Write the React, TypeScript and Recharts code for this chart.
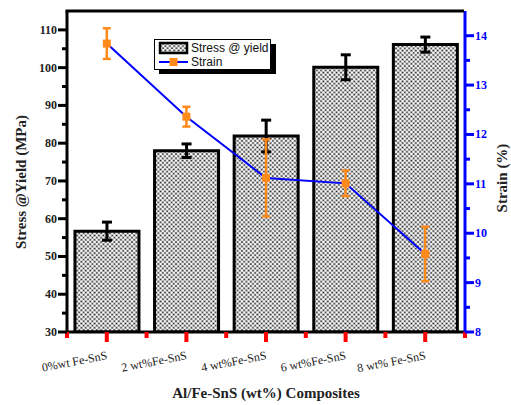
import React from 'react';
import { ComposedChart, Bar, Line, XAxis, YAxis, ErrorBar } from 'recharts';

const categories = ['0%wt Fe-SnS', '2 wt%Fe-SnS', '4 wt%Fe-SnS', '6 wt%Fe-SnS', '8 wt% Fe-SnS'];
const stress = [56.7, 78.0, 81.9, 100.1, 106.1];
const stressErr = [2.4, 1.8, 4.2, 3.3, 2.0];
const strain = [13.84, 12.36, 11.12, 11.01, 9.58];
const strainErr = [0.31, 0.2, 0.78, 0.26, 0.55];

const leftTicks = [30, 35, 40, 45, 50, 55, 60, 65, 70, 75, 80, 85, 90, 95, 100, 105, 110];
const rightTicks = [8, 8.5, 9, 9.5, 10, 10.5, 11, 11.5, 12, 12.5, 13, 13.5, 14];

const data = categories.map((c, i) => ({
  name: c,
  stress: stress[i],
  stressErr: stressErr[i],
  strain: strain[i],
  strainErr: strainErr[i],
}));

const SERIF = '"Liberation Serif", "Times New Roman", serif';
const SANS = '"Liberation Sans", Arial, sans-serif';
const ORANGE = '#FF8A1A';
const BLUE = '#0000FF';
const TICKCOLOR = 'red';

const XTick = (props: any) => {
  const { x, y, payload, index } = props;
  const count = props.visibleTicksCount || categories.length;
  const band = props.width && count ? props.width / count : 79.8;
  const tx = x + 1;
  const ty = y + 27;
  const last = index === count - 1;
  return (
    <g>
      <rect x={x - 2} y={y} width={4} height={10} fill={TICKCOLOR} />
      <rect x={x - band / 2 - 2} y={y} width={4} height={6} fill={TICKCOLOR} />
      {last && <rect x={x + band / 2 - 2} y={y} width={4} height={6} fill={TICKCOLOR} />}
      <text x={tx} y={ty} textAnchor="end" transform={`rotate(-11, ${tx}, ${ty})`} fontFamily={SERIF} fontSize={12} fill="#222">
        {payload.value}
      </text>
    </g>
  );
};

const LeftTick = (props: any) => {
  const { x, y, payload } = props;
  const major = payload.value % 10 === 0;
  const len = major ? 9 : 5;
  return (
    <g>
      <rect x={x - len} y={y - 1.5} width={len} height={3} fill="#000" />
      {major && (
        <text x={x - 10} y={y + 4} textAnchor="end" fontFamily={SERIF} fontWeight="bold" fontSize={12} fill="#222">
          {payload.value}
        </text>
      )}
    </g>
  );
};

const RightTick = (props: any) => {
  const { x, y, payload } = props;
  const major = Number.isInteger(payload.value);
  const len = major ? 9 : 5;
  return (
    <g>
      <rect x={x} y={y - 1.5} width={len} height={3} fill={BLUE} />
      {major && (
        <text x={x + 10} y={y + 4} textAnchor="start" fontFamily={SERIF} fontWeight="bold" fontSize={12} fill={BLUE}>
          {payload.value}
        </text>
      )}
    </g>
  );
};

const SquareDot = (props: any) => {
  const { cx, cy, index } = props;
  if (cx == null || cy == null) return <g key={index} />;
  return <rect key={index} x={cx - 4} y={cy - 4} width={8} height={8} fill={ORANGE} />;
};

const Hatch = ({ id }: { id: string }) => (
  <pattern id={id} patternUnits="userSpaceOnUse" width={4.4} height={4.4}>
    <rect width={4.4} height={4.4} fill="#fff" />
    <line x1={0} y1={0} x2={4.4} y2={4.4} stroke="#a8a8a8" strokeWidth={0.9} />
    <line x1={4.4} y1={0} x2={0} y2={4.4} stroke="#a8a8a8" strokeWidth={0.9} />
    <circle cx={2.2} cy={2.2} r={0.75} fill="#000" />
    <circle cx={0} cy={0} r={0.75} fill="#000" />
    <circle cx={4.4} cy={0} r={0.75} fill="#000" />
    <circle cx={0} cy={4.4} r={0.75} fill="#000" />
    <circle cx={4.4} cy={4.4} r={0.75} fill="#000" />
  </pattern>
);

export default function App() {
  return (
    <div style={{ position: 'absolute', left: 0, top: 0, width: 511, height: 405, background: '#fff' }}>
      <ComposedChart width={511} height={405} data={data} margin={{ top: 11, right: 0, bottom: 0, left: 0 }} barCategoryGap="10%">
        <defs>
          <Hatch id="hatch" />
        </defs>
        <XAxis
          xAxisId="cat"
          dataKey="name"
          height={73}
          interval={0}
          tickLine={false}
          tickSize={0}
          tickMargin={0}
          axisLine={{ stroke: '#000', strokeWidth: 3 }}
          tick={<XTick />}
        />
        <YAxis
          yAxisId="left"
          orientation="left"
          width={67}
          domain={[30, 115]}
          ticks={leftTicks}
          interval={0}
          tickLine={false}
          tickSize={0}
          tickMargin={0}
          axisLine={{ stroke: '#000', strokeWidth: 3 }}
          tick={<LeftTick />}
          allowDataOverflow
        />
        <YAxis
          yAxisId="right"
          orientation="right"
          width={46}
          domain={[8, 14.5]}
          ticks={rightTicks}
          interval={0}
          tickLine={false}
          tickSize={0}
          tickMargin={0}
          axisLine={{ stroke: BLUE, strokeWidth: 3 }}
          tick={<RightTick />}
          allowDataOverflow
        />
        <Bar
          dataKey="stress"
          xAxisId="cat"
          yAxisId="left"
          fill="url(#hatch)"
          stroke="#000"
          strokeWidth={3}
          isAnimationActive={false}
        >
          <ErrorBar dataKey="stressErr" width={5} stroke="#000" strokeWidth={3} direction="y" />
        </Bar>
        <Line
          dataKey="strain"
          xAxisId="cat"
          yAxisId="right"
          stroke={BLUE}
          strokeWidth={2}
          dot={<SquareDot />}
          activeDot={false}
          isAnimationActive={false}
        >
          <ErrorBar dataKey="strainErr" width={4} stroke={ORANGE} strokeWidth={2.5} direction="y" />
        </Line>
      </ComposedChart>
      <svg style={{ position: 'absolute', left: 0, top: 0, pointerEvents: 'none' }} width={511} height={405}>
        <line x1={65.5} y1={11} x2={464} y2={11} stroke="#000" strokeWidth={3} />
        <text x={266} y={398} textAnchor="middle" fontFamily={SERIF} fontWeight="bold" fontSize={15} fill="#222">
          Al/Fe-SnS (wt%) Composites
        </text>
        <text x={26} y={182} textAnchor="middle" transform="rotate(-90, 26, 182)" fontFamily={SERIF} fontWeight="bold" fontSize={15} fill="#222">
          Stress @Yield (MPa)
        </text>
        <text x={507} y={178} textAnchor="middle" transform="rotate(-90, 507, 178)" fontFamily={SERIF} fontWeight="bold" fontSize={15} fill="#222">
          Strain (%)
        </text>
      </svg>
      <svg style={{ position: 'absolute', left: 150, top: 35, overflow: 'visible' }} width={130} height={45}>
        <defs>
          <Hatch id="hatchLegend" />
        </defs>
        <rect x={9} y={9} width={117} height={30} fill="#000" />
        <rect x={4.5} y={4.5} width={116} height={30} fill="#fff" stroke="#000" strokeWidth={1} />
        <rect x={10} y={8} width={27} height={10} fill="url(#hatchLegend)" stroke="#000" strokeWidth={2.5} />
        <text x={41} y={17} fontFamily={SANS} fontSize={12} fill="#111">Stress @ yield</text>
        <line x1={9} y1={27} x2={38} y2={27} stroke={BLUE} strokeWidth={2} />
        <rect x={19.5} y={23} width={8} height={8} fill={ORANGE} />
        <text x={41} y={31} fontFamily={SANS} fontSize={12} fill="#111">Strain</text>
      </svg>
    </div>
  );
}
